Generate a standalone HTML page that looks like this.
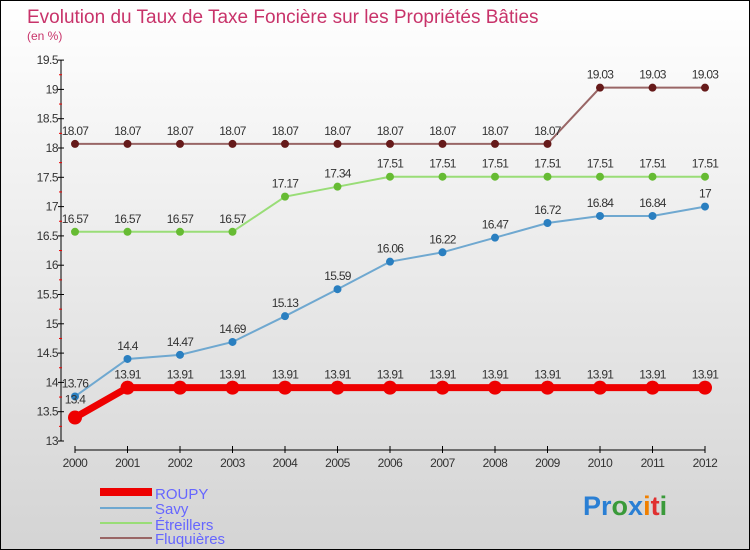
<!DOCTYPE html>
<html><head><meta charset="utf-8"><style>
body{margin:0;width:750px;height:550px;overflow:hidden;font-family:"Liberation Sans",sans-serif}
svg{display:block}
</style></head><body>
<svg id="c" width="750" height="550">
<defs><linearGradient id="bg" x1="0" y1="0" x2="0" y2="1"><stop offset="0" stop-color="#ffffff"/><stop offset="1" stop-color="#d4d4d4"/></linearGradient></defs>
<rect x="0.5" y="0.5" width="749" height="549" fill="url(#bg)" stroke="#000"/>
<text x="27" y="23" font-size="19" fill="#c8336a">Evolution du Taux de Taxe Foncière sur les Propriétés Bâties</text>
<text x="27" y="40" font-size="12" fill="#c8336a">(en %)</text>
<g id="axes"></g><g id="series"></g>
<g>
<rect x="100" y="488" width="52" height="8" fill="#e00"/>
<text x="155" y="499" font-size="15" fill="#6666ff">ROUPY</text>
<rect x="100" y="507" width="52" height="2" fill="#6fa8d0"/>
<text x="155" y="514" font-size="15" fill="#6666ff">Savy</text>
<rect x="100" y="522" width="52" height="2" fill="#99dd77"/>
<text x="155" y="530" font-size="15" fill="#6666ff">Étreillers</text>
<rect x="100" y="537" width="52" height="2" fill="#996666"/>
<text x="155" y="544" font-size="15" fill="#6666ff">Fluquières</text>
</g>
<g font-size="27" font-weight="bold">
<text x="583" y="515"><tspan fill="#2a7fd4">Pr</tspan><tspan fill="#3a9a3a">o</tspan><tspan fill="#2a7fd4">x</tspan><tspan fill="#f08000">i</tspan><tspan fill="#e03030">t</tspan><tspan fill="#3a9a3a">i</tspan></text>
</g>
</svg>
<script>
const years=[2000,2001,2002,2003,2004,2005,2006,2007,2008,2009,2010,2011,2012];
const roupy=[13.4,13.91,13.91,13.91,13.91,13.91,13.91,13.91,13.91,13.91,13.91,13.91,13.91];
const savy=[13.76,14.4,14.47,14.69,15.13,15.59,16.06,16.22,16.47,16.72,16.84,16.84,17];
const etreillers=[16.57,16.57,16.57,16.57,17.17,17.34,17.51,17.51,17.51,17.51,17.51,17.51,17.51];
const fluquieres=[18.07,18.07,18.07,18.07,18.07,18.07,18.07,18.07,18.07,18.07,19.03,19.03,19.03];
const yTicks=[13,13.5,14,14.5,15,15.5,16,16.5,17,17.5,18,18.5,19,19.5];
const NS="http://www.w3.org/2000/svg";
const X=i=>75+i*52.5;
const Y=v=>441-(v-13)*58.6;
function mk(t,a,p){const e=document.createElementNS(NS,t);for(const k in a)e.setAttribute(k,a[k]);p.appendChild(e);return e;}
const ax=document.getElementById('axes');
const yl=mk('line',{x1:61,y1:Y(19.5),x2:61,y2:Y(13),stroke:'#000'},ax);


yTicks.forEach(v=>{
 const t=mk('line',{x1:58,x2:64,y1:Y(v),y2:Y(v),stroke:'#000'},ax);
 
 
 const m=mk('line',{x1:59,x2:62,y1:Y(v+0.25),y2:Y(v+0.25),stroke:'#e00'},ax);
 if(v===19.5)m.setAttribute('visibility','hidden');
 
 
 const l=mk('text',{x:58,y:Y(v)+4,'text-anchor':'end','font-size':12,fill:'#333','letter-spacing':'-0.5'},ax);
 l.textContent=String(v);
 
 
});
const xl=mk('line',{x1:75,x2:705,y1:450,y2:450,stroke:'#000'},ax);


years.forEach((y,i)=>{
 const t=mk('line',{x1:X(i),x2:X(i),y1:446,y2:453,stroke:'#000'},ax);
 
 
 const l=mk('text',{x:X(i),y:467,'text-anchor':'middle','font-size':12,fill:'#333','letter-spacing':'-0.5'},ax);
 l.textContent=y;
 
 
});
const sg=document.getElementById('series');
function draw(vals,name,color,dot,w,r,lbl){
 const g=mk('g',{},sg);
 
 
 const p=mk('polyline',{points:vals.map((v,i)=>X(i)+','+Y(v)).join(' '),fill:'none',stroke:color,'stroke-width':w},g);
 
 
 vals.forEach((v,i)=>{
  const c=mk('circle',{cx:X(i),cy:Y(v),r:r,fill:dot},g);
  
  
  const t=mk('text',{x:X(i),y:Y(v)+(i===0&&name==='roupy'?-14:-9),'text-anchor':'middle','font-size':12,fill:'#333','letter-spacing':'-0.7'},g);
  t.textContent=String(v);
  
  
 });
}
draw(fluquieres,'fluquieres','#996666','#661a1a',2,4);
draw(etreillers,'etreillers','#99dd77','#66bb33',2,4);
draw(savy,'savy','#6fa8d0','#2a7fc0',2,4);
draw(roupy,'roupy','#ee0000','#ee0000',7,7);
</script>
</body></html>
